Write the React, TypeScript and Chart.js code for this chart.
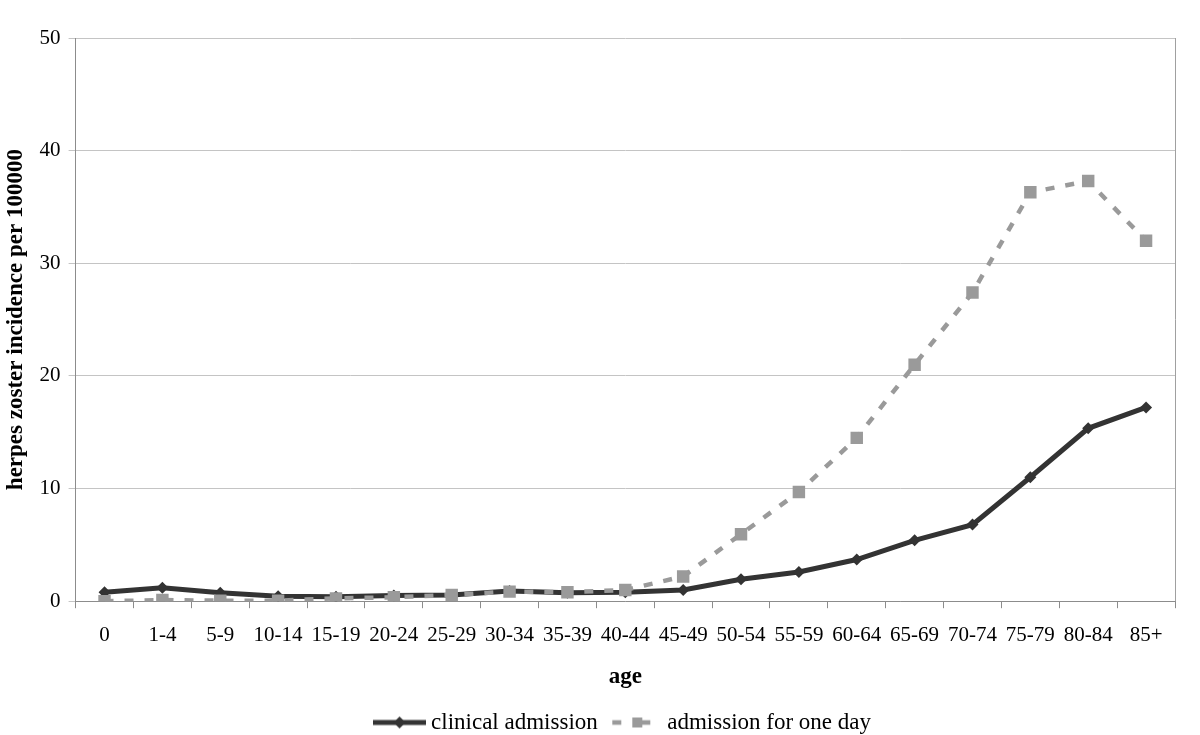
import React, { useEffect, useRef } from "react";
import { Chart, registerables } from "chart.js";

Chart.register(...registerables);

const categories = ["0", "1-4", "5-9", "10-14", "15-19", "20-24", "25-29", "30-34", "35-39", "40-44", "45-49", "50-54", "55-59", "60-64", "65-69", "70-74", "75-79", "80-84", "85+"];
const clinicalAdmission = [0.8, 1.2, 0.75, 0.45, 0.4, 0.5, 0.55, 0.9, 0.75, 0.8, 1.0, 1.95, 2.6, 3.7, 5.4, 6.8, 11.0, 15.35, 17.2];
const admissionOneDay = [0, 0.1, 0.05, 0.05, 0.25, 0.35, 0.55, 0.85, 0.8, 1.0, 2.2, 5.95, 9.7, 14.5, 21.0, 27.4, 36.3, 37.3, 32.0];
const yTicks = [0, 10, 20, 30, 40, 50];

const FONT = "'Liberation Serif', 'Times New Roman', serif";
const DARK = "#333333";
const GRAY = "#9a9a9a";

function makeClinicalIcon(): HTMLCanvasElement {
  const c = document.createElement("canvas");
  c.width = 53;
  c.height = 14;
  const ctx = c.getContext("2d")!;
  ctx.strokeStyle = DARK;
  ctx.lineWidth = 5;
  ctx.beginPath();
  ctx.moveTo(0, 7);
  ctx.lineTo(53, 7);
  ctx.stroke();
  ctx.fillStyle = DARK;
  ctx.beginPath();
  ctx.moveTo(26.5, 1);
  ctx.lineTo(32.5, 7);
  ctx.lineTo(26.5, 13);
  ctx.lineTo(20.5, 7);
  ctx.closePath();
  ctx.fill();
  return c;
}

function makeOneDayIcon(): HTMLCanvasElement {
  const c = document.createElement("canvas");
  c.width = 53;
  c.height = 14;
  const ctx = c.getContext("2d")!;
  ctx.fillStyle = GRAY;
  ctx.fillRect(3, 4.7, 9, 4.6);
  ctx.fillRect(23, 2, 10, 10);
  ctx.fillRect(33, 4.7, 8, 4.6);
  return c;
}

export default function App() {
  const ref = useRef<HTMLCanvasElement | null>(null);

  useEffect(() => {
    if (!ref.current) return;
    const icon1 = makeClinicalIcon();
    const icon2 = makeOneDayIcon();

    const rightBorder = {
      id: "rightBorder",
      afterDatasetsDraw(chart: any) {
        const { ctx, chartArea } = chart;
        ctx.save();
        ctx.strokeStyle = "#a0a0a0";
        ctx.lineWidth = 1;
        ctx.beginPath();
        ctx.moveTo(chartArea.right + 0.5, chartArea.top);
        ctx.lineTo(chartArea.right + 0.5, chartArea.bottom);
        ctx.stroke();
        ctx.restore();
      },
    };

    const chart = new Chart(ref.current, {
      type: "line",
      data: {
        labels: categories,
        datasets: [
          {
            label: "clinical admission",
            data: clinicalAdmission,
            borderColor: DARK,
            backgroundColor: DARK,
            borderWidth: 5,
            pointStyle: "rectRot",
            pointRadius: 6,
            pointBackgroundColor: DARK,
            pointBorderColor: DARK,
            pointBorderWidth: 0,
            tension: 0,
            order: 1,
          },
          {
            label: "admission for one day",
            data: admissionOneDay,
            borderColor: GRAY,
            backgroundColor: GRAY,
            borderWidth: 4.5,
            borderDash: [9, 11],
            pointStyle: "rect",
            pointRadius: 8.8,
            pointBackgroundColor: GRAY,
            pointBorderColor: GRAY,
            pointBorderWidth: 0,
            tension: 0,
            order: 0,
          },
        ],
      },
      options: {
        animation: false,
        responsive: true,
        maintainAspectRatio: false,
        layout: { padding: { top: 38, right: 25, left: 2, bottom: -9 } },
        scales: {
          x: {
            type: "category",
            offset: true,
            grid: {
              offset: true,
              drawOnChartArea: false,
              drawTicks: true,
              tickLength: 7,
              color: "#8c8c8c",
            },
            border: { display: true, color: "#8c8c8c", width: 1 },
            ticks: {
              color: "#000",
              font: { family: FONT, size: 21 },
              padding: 15,
              maxRotation: 0,
              autoSkip: false,
            },
            title: {
              display: true,
              text: "age",
              color: "#000",
              font: { family: FONT, size: 23, weight: "bold" },
              padding: { top: 0, bottom: 2 },
            },
          },
          y: {
            min: 0,
            max: 50,
            afterBuildTicks(axis: any) {
              axis.ticks = yTicks.map((v) => ({ value: v }));
            },
            grid: {
              color: "#c4c4c4",
              drawTicks: true,
              tickLength: 7,
            },
            border: { display: true, color: "#8c8c8c", width: 1 },
            ticks: {
              color: "#000",
              font: { family: FONT, size: 21 },
              padding: 8,
            },
            title: {
              display: true,
              text: "herpes zoster incidence per 100000",
              color: "#000",
              font: { family: FONT, size: 23, weight: "bold" },
              padding: { top: 0, bottom: 2 },
            },
          },
        },
        plugins: {
          legend: {
            display: true,
            position: "bottom",
            fullSize: false,
            labels: {
              usePointStyle: true,
              pointStyleWidth: 40,
              boxHeight: 14,
              color: "#000",
              font: { family: FONT, size: 23 },
              padding: 18,
              generateLabels: () => [
                {
                  text: "clinical admission",
                  pointStyle: icon1,
                  fillStyle: DARK,
                  strokeStyle: DARK,
                  lineWidth: 0,
                  hidden: false,
                  datasetIndex: 0,
                  fontColor: "#000",
                },
                {
                  text: "admission for one day",
                  pointStyle: icon2,
                  fillStyle: GRAY,
                  strokeStyle: GRAY,
                  lineWidth: 0,
                  hidden: false,
                  datasetIndex: 1,
                  fontColor: "#000",
                },
              ],
            },
          },
          tooltip: { enabled: false },
        },
      },
      plugins: [rightBorder],
    } as any);

    return () => chart.destroy();
  }, []);

  return (
    <div style={{ position: "fixed", left: 0, top: 0, width: 1200, height: 735, background: "#fff" }}>
      <canvas ref={ref} />
    </div>
  );
}
